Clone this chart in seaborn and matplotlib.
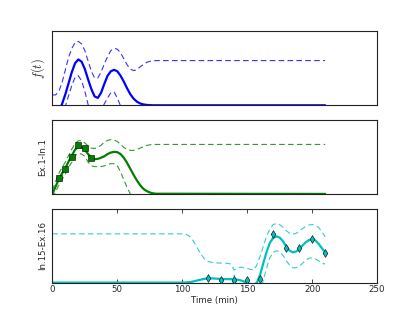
import matplotlib
matplotlib.use("Agg")
import matplotlib.pyplot as plt
import seaborn as sns

# time grid for the first two panels (min)
t_early = [0, 2.5, 5, 7.5, 10, 12.5, 15, 17.5, 20, 22.5, 25, 27.5, 30, 32.5, 35,
           37.5, 40, 42.5, 45, 47.5, 50, 52.5, 55, 57.5, 60, 62.5, 65, 67.5, 70,
           72.5, 75, 77.5, 80, 210]

# f(t)
f_mean = [-0.30, -0.19, -0.08, 0.02, 0.15, 0.30, 0.45, 0.57, 0.62, 0.59, 0.49, 0.35,
          0.22, 0.12, 0.10, 0.17, 0.29, 0.40, 0.46, 0.48, 0.46, 0.40, 0.32, 0.23,
          0.15, 0.09, 0.05, 0.025, 0.012, 0.005, 0.002, 0.0, 0.0, 0.0]
f_upper = [0.14, 0.14, 0.19, 0.31, 0.48, 0.65, 0.77, 0.85, 0.865, 0.83, 0.74, 0.60,
           0.46, 0.37, 0.37, 0.45, 0.56, 0.66, 0.74, 0.77, 0.76, 0.71, 0.63, 0.55,
           0.49, 0.47, 0.48, 0.52, 0.55, 0.58, 0.595, 0.60, 0.605, 0.605]
f_lower = [-0.74, -0.52, -0.35, -0.20, -0.01, 0.13, 0.27, 0.38, 0.40, 0.33, 0.19, 0.01,
           -0.10, -0.17, -0.15, -0.07, 0.02, 0.10, 0.17, 0.18, 0.10, -0.01, -0.10, -0.20,
           -0.25, -0.30, -0.38, -0.47, -0.53, -0.57, -0.59, -0.60, -0.605, -0.605]

# Ex.1-In.1
g_mean = [0.0, 0.10, 0.20, 0.28, 0.35, 0.44, 0.52, 0.60, 0.635, 0.63, 0.60, 0.54,
          0.49, 0.47, 0.475, 0.49, 0.51, 0.54, 0.56, 0.57, 0.565, 0.54, 0.49, 0.42,
          0.34, 0.26, 0.185, 0.12, 0.07, 0.04, 0.02, 0.008, 0.003, 0.0]
g_upper = [0.05, 0.17, 0.28, 0.36, 0.43, 0.52, 0.61, 0.68, 0.72, 0.72, 0.69, 0.65,
           0.62, 0.615, 0.63, 0.66, 0.70, 0.725, 0.735, 0.73, 0.71, 0.67, 0.63, 0.60,
           0.59, 0.59, 0.60, 0.62, 0.64, 0.655, 0.665, 0.67, 0.67, 0.67]
g_lower = [-0.05, 0.03, 0.12, 0.20, 0.27, 0.36, 0.43, 0.52, 0.55, 0.54, 0.51, 0.43,
           0.38, 0.37, 0.37, 0.37, 0.38, 0.395, 0.41, 0.41, 0.38, 0.30, 0.19, 0.09,
           0.0, -0.07, -0.15, -0.25, -0.35, -0.45, -0.55, -0.62, -0.67, -0.67]
g_obs_t = [5, 10, 15, 20, 25, 30]
g_obs = [0.22, 0.34, 0.50, 0.66, 0.62, 0.49]

# In.15-Ex.16
t_late = [0, 100, 102.5, 105, 107.5, 110, 112.5, 115, 117.5, 120, 122.5, 125, 127.5,
          130, 132.5, 135, 137.5, 140, 142.5, 145, 147.5, 150, 152.5, 155, 157.5,
          160, 162.5, 165, 167.5, 170, 172.5, 175, 177.5, 180, 182.5, 185, 187.5,
          190, 192.5, 195, 197.5, 200, 202.5, 205, 207.5, 210]
c_mean = [0.0, 0.0, 0.002, 0.005, 0.012, 0.022, 0.033, 0.044, 0.052, 0.056, 0.057,
          0.055, 0.052, 0.05, 0.048, 0.047, 0.046, 0.044, 0.04, 0.03, 0.015, -0.005,
          -0.02, -0.03, 0.0, 0.11, 0.27, 0.42, 0.54, 0.605, 0.625, 0.61, 0.56, 0.49,
          0.435, 0.41, 0.42, 0.45, 0.50, 0.545, 0.575, 0.585, 0.57, 0.525, 0.465, 0.41]
c_upper = [0.66, 0.66, 0.655, 0.635, 0.59, 0.52, 0.44, 0.37, 0.31, 0.285, 0.275,
           0.27, 0.265, 0.265, 0.265, 0.26, 0.25, 0.17, 0.20, 0.21, 0.20, 0.19, 0.18,
           0.17, 0.24, 0.36, 0.50, 0.63, 0.73, 0.785, 0.80, 0.785, 0.75, 0.705, 0.67,
           0.655, 0.665, 0.695, 0.73, 0.76, 0.78, 0.785, 0.775, 0.745, 0.69, 0.62]
c_lower = [-0.66, -0.66, -0.65, -0.62, -0.56, -0.48, -0.38, -0.28, -0.20, -0.17,
           -0.165, -0.16, -0.16, -0.16, -0.16, -0.16, -0.12, 0.10, -0.10, -0.14, -0.17,
           -0.20, -0.21, -0.22, -0.22, -0.12, 0.04, 0.20, 0.34, 0.41, 0.43, 0.42, 0.37,
           0.30, 0.24, 0.20, 0.20, 0.22, 0.26, 0.30, 0.33, 0.335, 0.32, 0.295, 0.265, 0.25]
c_obs_t = [120, 130, 140, 150, 160, 170, 180, 190, 200, 210]
c_obs = [0.06, 0.036, 0.036, 0.04, 0.055, 0.66, 0.465, 0.465, 0.59, 0.40]

sns.set_style("white")
plt.rcParams["font.family"] = ["DejaVu Sans"]
plt.rcParams["mathtext.fontset"] = "cm"
plt.rcParams["font.size"] = 6.2

fig, axes = plt.subplots(3, 1, figsize=(4.19, 3.14), dpi=100, sharex=True)
fig.subplots_adjust(left=0.125, right=0.9, bottom=0.1, top=0.9, hspace=0.2)

panels = [
    (axes[0], t_early, f_mean, f_upper, f_lower, None, None, "blue", None, r"$f(t)$"),
    (axes[1], t_early, g_mean, g_upper, g_lower, g_obs_t, g_obs, "green", "s", "Ex.1-In.1"),
    (axes[2], t_late, c_mean, c_upper, c_lower, c_obs_t, c_obs, "c", "d", "In.15-Ex.16"),
]

for ax, t, mean, upper, lower, obs_t, obs, col, mk, label in panels:
    sns.lineplot(x=t, y=upper, ax=ax, color=col, lw=0.8, linestyle=(0, (5, 3)), alpha=0.8)
    sns.lineplot(x=t, y=lower, ax=ax, color=col, lw=0.8, linestyle=(0, (5, 3)), alpha=0.8)
    sns.lineplot(x=t, y=mean, ax=ax, color=col, lw=1.6)
    if obs_t is not None:
        sns.scatterplot(x=obs_t, y=obs, ax=ax, marker=mk, color=col, s=16,
                        edgecolor="k", linewidth=0.4, zorder=5)
    ax.set_xlim(0, 250)
    ax.set_ylim(0, 1)
    ax.set_yticks([])
    ax.set_ylabel(label, fontsize=9 if label.startswith("$") else 6.2)
    for sp in ax.spines.values():
        sp.set_color("#222222")
        sp.set_linewidth(0.8)

for ax in axes[:2]:
    ax.tick_params(axis="x", bottom=False, top=False, labelbottom=False)

axes[2].set_xticks([0, 50, 100, 150, 200, 250])
axes[2].tick_params(axis="x", direction="in", length=3, width=0.6, top=True,
                    bottom=True, labelsize=6.2, pad=2)
axes[2].set_xlabel("Time (min)", fontsize=6.2, labelpad=1)

fig.savefig("out.png", dpi=100)
